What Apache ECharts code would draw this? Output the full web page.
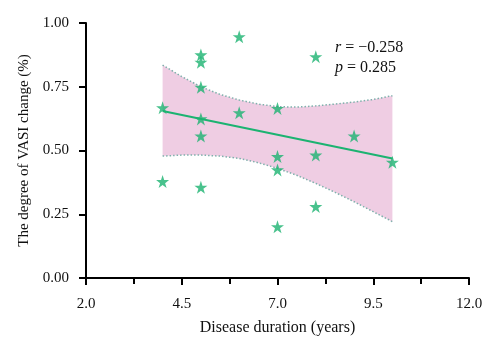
<!DOCTYPE html>
<html>
<head>
<meta charset="utf-8">
<script src="https://cdn.jsdelivr.net/npm/echarts@6/dist/echarts.min.js"></script>
<style>
  html, body { margin: 0; padding: 0; background: #fff; }
  #chart { width: 500px; height: 353px; }
</style>
</head>
<body>
<div id="chart"></div>
<script>
const durations = [4, 4, 5, 5, 5, 5, 5, 5, 6, 6, 7, 7, 7, 7, 8, 8, 8, 9, 10];
const vasiChange = [0.668, 0.378, 0.875, 0.846, 0.748, 0.624, 0.557, 0.356, 0.946, 0.648,
  0.665, 0.476, 0.424, 0.201, 0.868, 0.482, 0.28, 0.557, 0.454];

// 95% confidence band
const bandX = [4, 4.5, 5, 5.5, 6, 6.5, 7, 7.5, 8, 8.5, 9, 9.5, 10];
const bandUpper = [0.835, 0.79, 0.75, 0.72, 0.698, 0.682, 0.672, 0.67, 0.675, 0.682, 0.69, 0.70, 0.715];
const bandLower = [0.478, 0.482, 0.482, 0.478, 0.469, 0.452, 0.43, 0.403, 0.371, 0.336, 0.299, 0.26, 0.221];

const fitX = [4, 10];
const fitY = [0.655, 0.469];

const rText = "−0.258";
const pText = "0.285";

const green = "#1cb371";
const dotColor = "#7fb0ac";
const serif = "Liberation Serif";
const star = "path://M50,0 L61.8,35.1 L98.9,35.1 L68.9,56.9 L80.3,91.9 L50,70.3 L19.7,91.9 L31.1,56.9 L1.1,35.1 L38.2,35.1 Z";

const chart = echarts.init(document.getElementById("chart"));

const upperPts = bandX.map((x, i) => [x, bandUpper[i]]);
const lowerPts = bandX.map((x, i) => [x, bandLower[i]]);

chart.setOption({
  animation: false,
  textStyle: { fontFamily: serif },
  grid: { left: 86, right: 31, top: 23, bottom: 75 },
  xAxis: {
    type: "value",
    min: 2,
    max: 12,
    interval: 2.5,
    name: "Disease duration (years)",
    nameLocation: "middle",
    nameGap: 42,
    nameTextStyle: { fontSize: 16, color: "#111", fontFamily: serif },
    axisLine: { lineStyle: { color: "#000", width: 2 } },
    axisTick: { length: 7, lineStyle: { color: "#000", width: 2 } },
    minorTick: { show: true, splitNumber: 2, length: 6, lineStyle: { color: "#000", width: 2 } },
    axisLabel: {
      fontSize: 15, color: "#111", margin: 19, fontFamily: serif,
      formatter: (v) => v.toFixed(1),
    },
    splitLine: { show: false },
  },
  yAxis: {
    type: "value",
    min: 0,
    max: 1,
    interval: 0.25,
    name: "The degree of VASI change (%)",
    nameLocation: "middle",
    nameGap: 51,
    nameTextStyle: { fontSize: 15, color: "#111", fontFamily: serif },
    axisLine: { show: true, lineStyle: { color: "#000", width: 2 } },
    axisTick: { show: true, length: 7, lineStyle: { color: "#000", width: 2 } },
    axisLabel: {
      fontSize: 15, color: "#111", margin: 17, fontFamily: serif,
      formatter: (v) => v.toFixed(2),
    },
    splitLine: { show: false },
  },
  graphic: [
    {
      type: "text",
      left: 335,
      top: 38,
      style: {
        text: "{i|r} = " + rText + "\n{i|p} = " + pText,
        rich: {
          i: { fontStyle: "italic", fontSize: 16, fontFamily: serif, fill: "#111" },
        },
        font: "16px 'Liberation Serif'",
        fill: "#111",
        align: "center",
        lineHeight: 20,
      },
    },
  ],
  series: [
    {
      type: "custom",
      data: [0],
      silent: true,
      z: 1,
      renderItem: (params, api) => {
        const pts = upperPts.concat(lowerPts.slice().reverse()).map((p) => api.coord(p));
        return {
          type: "polygon",
          shape: { points: pts },
          style: { fill: "#efcde3", stroke: null },
        };
      },
    },
    {
      type: "line",
      data: upperPts,
      symbol: "none",
      lineStyle: { color: dotColor, width: 1.5, type: [1.5, 2] },
      z: 2,
    },
    {
      type: "line",
      data: lowerPts,
      symbol: "none",
      lineStyle: { color: dotColor, width: 1.5, type: [1.5, 2] },
      z: 2,
    },
    {
      type: "line",
      data: fitX.map((x, i) => [x, fitY[i]]),
      symbol: "none",
      lineStyle: { color: green, width: 2 },
      z: 3,
    },
    {
      type: "scatter",
      data: durations.map((x, i) => [x, vasiChange[i]]),
      symbol: star,
      symbolSize: 13,
      itemStyle: { color: green },
      z: 4,
    },
  ],
});
</script>
</body>
</html>
